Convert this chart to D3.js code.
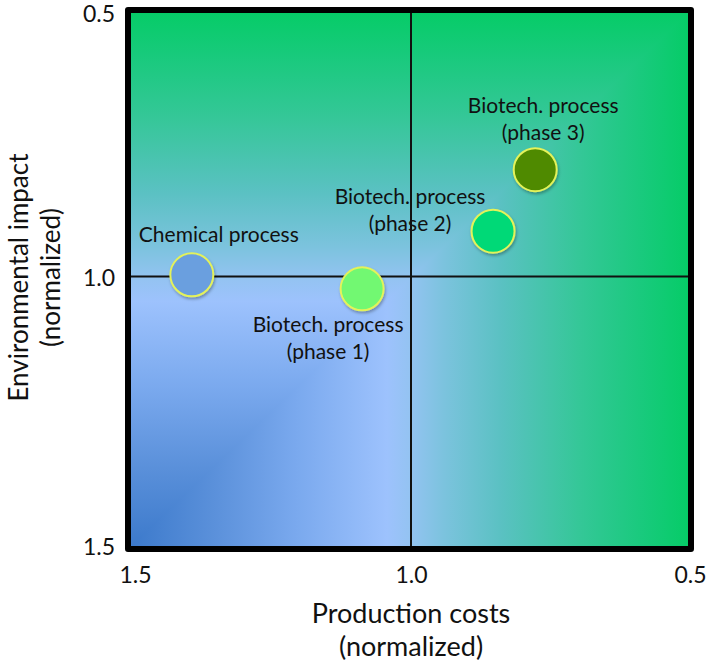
<!DOCTYPE html>
<html>
<head>
<meta charset="utf-8">
<script src="https://cdn.jsdelivr.net/npm/d3@7/dist/d3.min.js"></script>
<style>
  html, body { margin: 0; padding: 0; background: #fff; }
  svg { display: block; }
  text { font-family: Lato, "Open Sans", "DejaVu Sans", sans-serif; fill: #111; }
</style>
</head>
<body>
<svg id="chart" width="709" height="665"></svg>
<script>
// ---- data ----
const processes = ["Chemical process", "Biotech. process (phase 1)", "Biotech. process (phase 2)", "Biotech. process (phase 3)"];
const labelLines = [["Chemical process"], ["Biotech. process", "(phase 1)"], ["Biotech. process", "(phase 2)"], ["Biotech. process", "(phase 3)"]];
const productionCosts = [1.39, 1.087, 0.854, 0.779];
const environmentalImpact = [0.995, 1.021, 0.914, 0.80];
const xTicks = [1.5, 1.0, 0.5];
const yTicks = [0.5, 1.0, 1.5];
const xTitle = ["Production costs", "(normalized)"];
const yTitle = ["Environmental impact", "(normalized)"];

// ---- layout ----
const svg = d3.select("#chart");
const x = d3.scaleLinear().domain([1.5, 0.5]).range([130, 692]);
const y = d3.scaleLinear().domain([0.5, 1.5]).range([8, 547]);
const frame = { x0: 128, y0: 10, x1: 691, y1: 549 };
const fills = ["#6a9fdf", "#72f872", "#00d977", "#4f8a00"];
// label offsets relative to the circle (centre of first line)
const labelOffsets = [[27, -40], [-34, 36], [-83, -34], [8, -64]];
const lineGap = 27;

const defs = svg.append("defs");
const stops = [
  [0.00, "#3b79cb"], [0.15, "#5a90da"], [0.30, "#7aa9ee"], [0.46, "#9dc2fd"],
  [0.50, "#94c3f2"], [0.56, "#7cc3de"], [0.66, "#5bc1c3"], [0.80, "#35c798"],
  [0.92, "#17ca7b"], [1.00, "#05cc66"]
];
function addGrad(id, x1, y1, x2, y2) {
  const g = defs.append("linearGradient").attr("id", id)
    .attr("gradientUnits", "userSpaceOnUse")
    .attr("x1", x1).attr("y1", y1).attr("x2", x2).attr("y2", y2);
  g.selectAll("stop").data(stops).join("stop")
    .attr("offset", d => d[0]).attr("stop-color", d => d[1]);
}
addGrad("gH", frame.x0, 0, frame.x1, 0);
addGrad("gV", 0, frame.y1, 0, frame.y0);

const shadow = defs.append("filter").attr("id", "sh")
  .attr("x", "-30%").attr("y", "-30%").attr("width", "160%").attr("height", "160%");
shadow.append("feDropShadow").attr("dx", 1).attr("dy", 2).attr("stdDeviation", 1.6)
  .attr("flood-color", "#000").attr("flood-opacity", 0.3);

// background: rectangular (path) gradient from bottom-left corner
svg.append("rect").attr("x", frame.x0).attr("y", frame.y0)
  .attr("width", frame.x1 - frame.x0).attr("height", frame.y1 - frame.y0)
  .attr("fill", "url(#gH)");
svg.append("path")
  .attr("d", `M${frame.x0},${frame.y1}L${frame.x0},${frame.y0}L${frame.x1},${frame.y0}Z`)
  .attr("fill", "url(#gV)");

const pts = processes.map((p, i) => ({ name: p, lines: labelLines[i], cx: x(productionCosts[i]), cy: y(environmentalImpact[i]), fill: fills[i], off: labelOffsets[i] }));

// point labels
const lab = svg.append("g").selectAll("text").data(pts).join("text")
  .attr("text-anchor", "middle")
  .attr("font-size", 21);
lab.each(function(d) {
  const t = d3.select(this);
  d.lines.forEach((ln, j) => {
    t.append("tspan").attr("x", d.cx + d.off[0]).attr("y", d.cy + d.off[1] + j * lineGap)
      .attr("dy", "0.35em").text(ln);
  });
});

// crosshair lines
svg.append("line").attr("x1", x(1.0)).attr("x2", x(1.0)).attr("y1", frame.y0).attr("y2", frame.y1)
  .attr("stroke", "#111").attr("stroke-width", 2);
svg.append("line").attr("x1", frame.x0).attr("x2", frame.x1).attr("y1", y(1.0) - 1).attr("y2", y(1.0) - 1)
  .attr("stroke", "#111").attr("stroke-width", 2);

// circles
svg.append("g").selectAll("circle").data(pts).join("circle")
  .attr("cx", d => d.cx).attr("cy", d => d.cy).attr("r", 21.5)
  .attr("fill", d => d.fill).attr("stroke", "#e4f25a").attr("stroke-width", 2)
  .attr("filter", "url(#sh)");

// frame
svg.append("rect").attr("x", frame.x0).attr("y", frame.y0)
  .attr("width", frame.x1 - frame.x0).attr("height", frame.y1 - frame.y0)
  .attr("fill", "none").attr("stroke", "#000").attr("stroke-width", 6)
  .attr("stroke-linejoin", "round");

// axes ticks
const xAxis = d3.axisBottom(x).tickValues(xTicks).tickFormat(d3.format(".1f")).tickSize(0);
const gx = svg.append("g").attr("transform", "translate(0,560)").call(xAxis);
gx.select(".domain").remove();
gx.selectAll("text").attr("font-size", 23).attr("dy", 0).attr("y", 23)
  .attr("dx", d => d === 1.5 ? 5 : (d === 0.5 ? -2 : 0))
  .style("font-family", "Lato, 'Open Sans', sans-serif").attr("fill", "#111");

const yAxis = d3.axisLeft(y).tickValues(yTicks).tickFormat(d3.format(".1f")).tickSize(0);
const gy = svg.append("g").attr("transform", "translate(115,0)").call(yAxis);
gy.select(".domain").remove();
gy.selectAll(".tick").attr("transform", d => `translate(0,${Math.max(y(d), 14)})`);
gy.selectAll("text").attr("font-size", 23).attr("x", 0).attr("dy", "0.35em")
  .style("font-family", "Lato, 'Open Sans', sans-serif").attr("fill", "#111");

// axis titles
svg.append("text").attr("text-anchor", "middle").attr("font-size", 27)
  .selectAll("tspan").data(xTitle).join("tspan")
  .attr("x", x(1.0)).attr("y", (d, i) => 623 + i * 33).text(d => d);
svg.append("text").attr("text-anchor", "middle").attr("font-size", 26)
  .attr("transform", `translate(0,${y(1.0)}) rotate(-90)`)
  .selectAll("tspan").data(yTitle).join("tspan")
  .attr("x", 0).attr("y", (d, i) => 28 + i * 32).text(d => d);
</script>
</body>
</html>
